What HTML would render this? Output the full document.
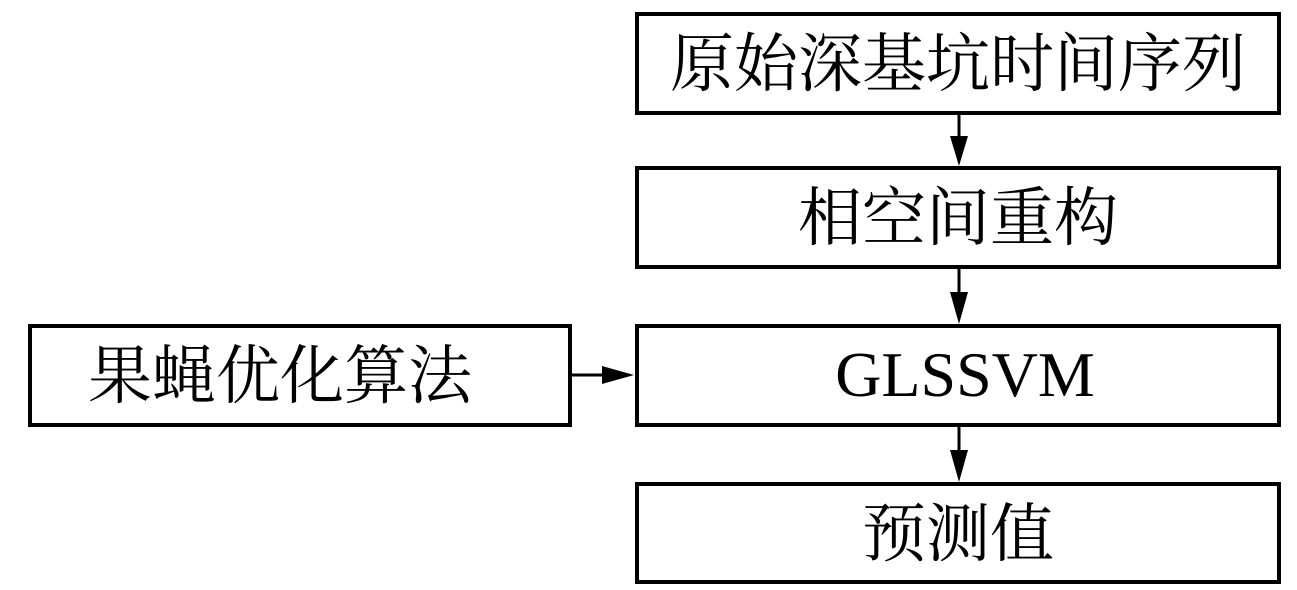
<!DOCTYPE html>
<html><head><meta charset="utf-8"><style>
html,body{margin:0;padding:0;background:#fff;}
svg{display:block;}
text{font-family:"Liberation Serif","Noto Serif CJK SC",serif;fill:#000;}
</style></head><body>
<svg width="1297" height="590" viewBox="0 0 1297 590" xmlns="http://www.w3.org/2000/svg">
<g fill="none" stroke="#000" stroke-width="4">
<rect x="637" y="14" width="642" height="99"/>
<rect x="637" y="168" width="642" height="99"/>
<rect x="637" y="326" width="642" height="99"/>
<rect x="637" y="484" width="642" height="98"/>
<rect x="30" y="326" width="540" height="99"/>
</g>
<g stroke="#000" stroke-width="3">
<line x1="959" y1="115" x2="959" y2="140"/>
<line x1="959" y1="269" x2="959" y2="295"/>
<line x1="959" y1="427" x2="959" y2="452"/>
<line x1="572" y1="375" x2="605" y2="375"/>
</g>
<g fill="#000">
<polygon points="950,136 968,136 959,166"/>
<polygon points="950,292 968,292 959,324"/>
<polygon points="950,450 968,450 959,482"/>
<polygon points="602,366 602,384 634,375"/>
</g>
<text x="958" y="86" font-size="64" text-anchor="middle">原始深基坑时间序列</text>
<text x="958" y="240" font-size="64" text-anchor="middle">相空间重构</text>
<text x="965" y="396" font-size="64" text-anchor="middle">GLSSVM</text>
<text x="958" y="556" font-size="64" text-anchor="middle">预测值</text>
<text x="280" y="398" font-size="64" text-anchor="middle">果蝇优化算法</text>
</svg>
</body></html>
